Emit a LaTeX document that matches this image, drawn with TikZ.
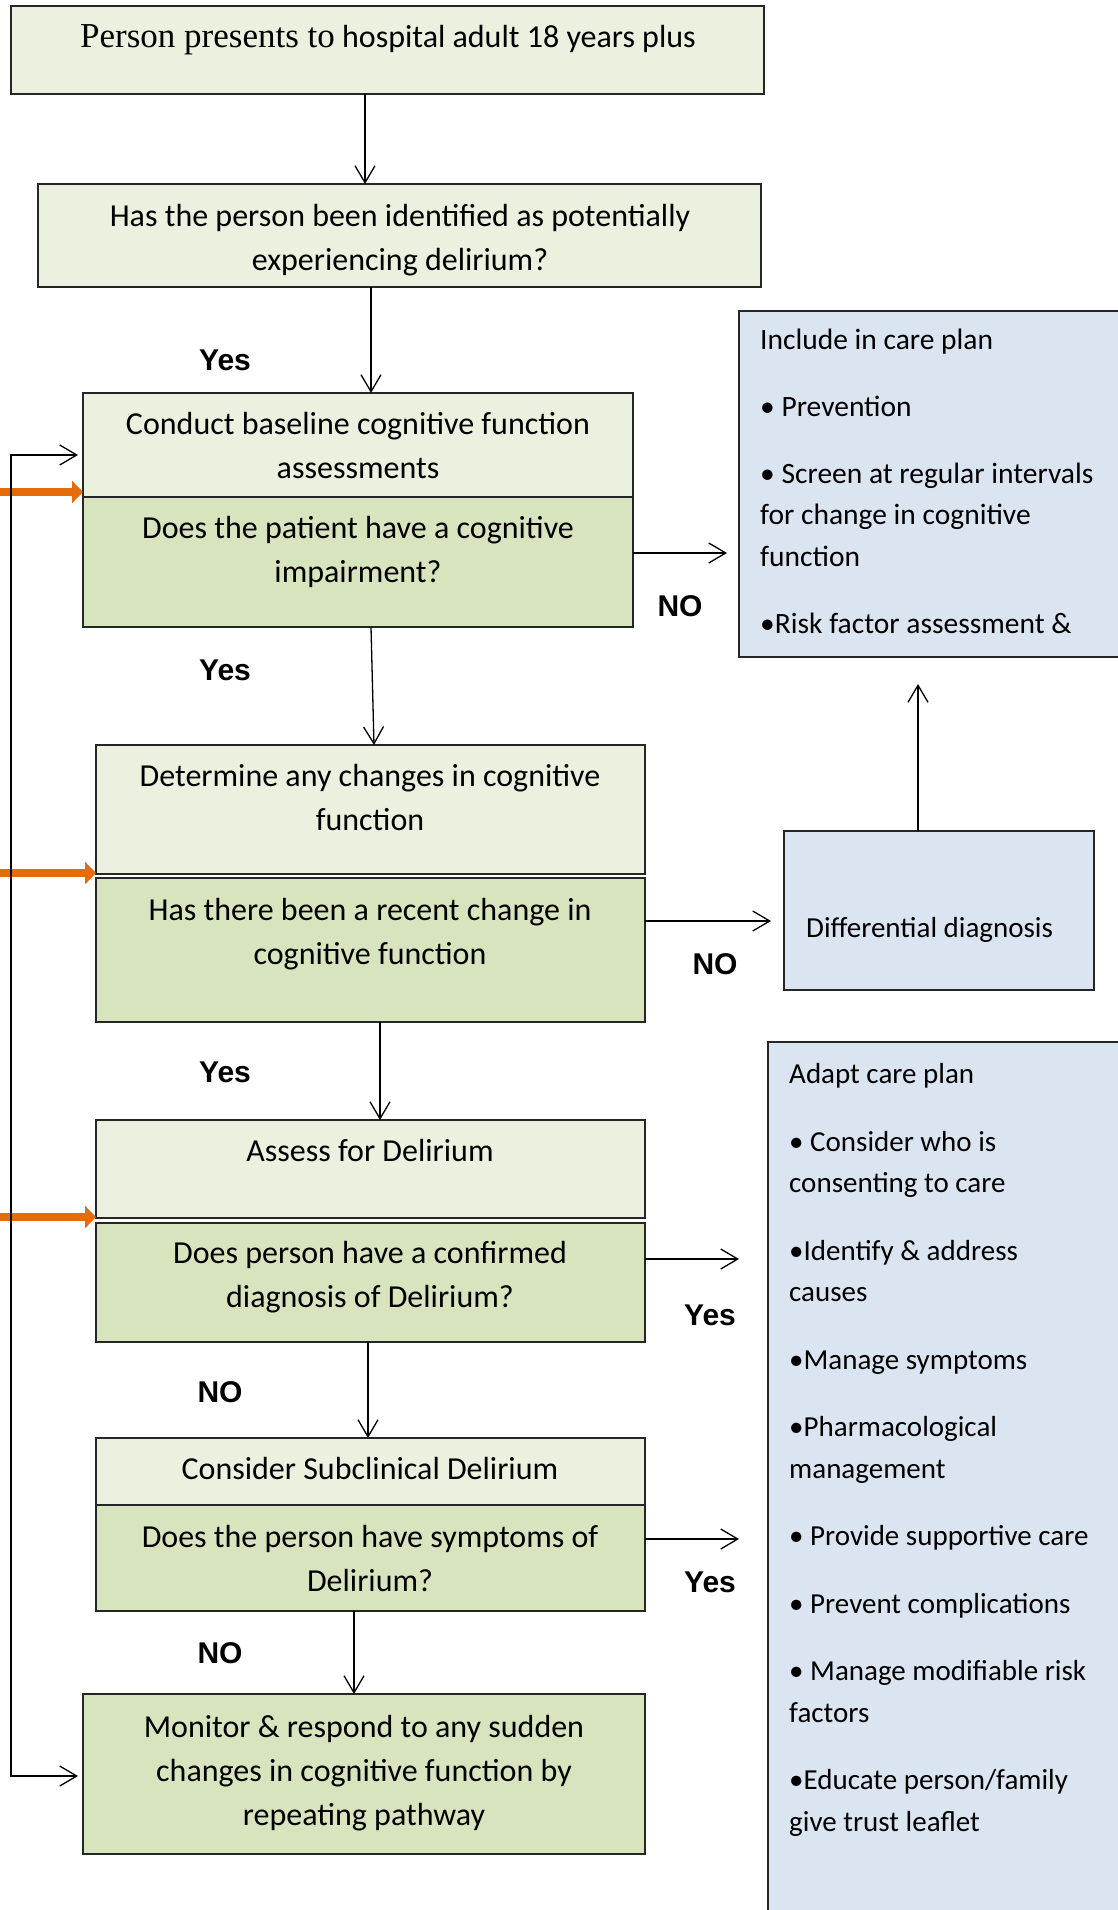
\documentclass[tikz,border=0pt]{standalone}
\usepackage{fontspec}
\setmainfont{Carlito}
\newfontfamily\carl{Carlito}
\newfontfamily\arl{Liberation Sans}
\newfontfamily\srf{Liberation Serif}
\usetikzlibrary{arrows.meta}
\definecolor{lg}{HTML}{EBF1DE}
\definecolor{mg}{HTML}{D7E4BD}
\definecolor{bl}{HTML}{DBE5F1}
\definecolor{og}{HTML}{E46C0A}
\begin{document}
\begin{tikzpicture}[x=1pt,y=-1pt,
  boxst/.style={draw=black!85, line width=1.3pt, inner sep=0pt, outer sep=0pt, anchor=north west},
  txt/.style={font=\carl\fontsize{32}{44}\selectfont, align=center, anchor=mid, inner sep=0pt},
  rt/.style={font=\carl\fontsize{29.5}{41.4}\selectfont, align=left, anchor=mid west, inner sep=0pt},
  lbl/.style={font=\arl\bfseries\fontsize{30}{36}\selectfont, anchor=mid, inner sep=0pt},
  conn/.style={line width=1.3pt, -{Straight Barb[length=17pt,width=20pt]}},
  both/.style={line width=1.3pt, {Straight Barb[length=17pt,width=20pt]}-{Straight Barb[length=17pt,width=20pt]}},
  orng/.style={draw=og, line width=8pt, -{Triangle[length=11pt,width=22pt]}}]
\useasboundingbox (0,0) rectangle (1118,1910);
\clip (0,0) rectangle (1118,1910);

% boxes
\node[boxst, fill=lg, minimum width=753pt, minimum height=88pt] (b1) at (11,6) {};
\node[boxst, fill=lg, minimum width=723pt, minimum height=103pt] (b2) at (38,184) {};
\node[boxst, fill=lg, minimum width=550pt, minimum height=104pt] (b3a) at (83,393) {};
\node[boxst, fill=mg, minimum width=550pt, minimum height=130pt] (b3b) at (83,497) {};
\node[boxst, fill=lg, minimum width=549pt, minimum height=129pt] (b4a) at (96,745) {};
\node[boxst, fill=mg, minimum width=549pt, minimum height=144pt] (b4b) at (96,878) {};
\node[boxst, fill=lg, minimum width=549pt, minimum height=98pt] (b5a) at (96,1120) {};
\node[boxst, fill=mg, minimum width=549pt, minimum height=119pt] (b5b) at (96,1223) {};
\node[boxst, fill=lg, minimum width=549pt, minimum height=67pt] (b6a) at (96,1438) {};
\node[boxst, fill=mg, minimum width=549pt, minimum height=106pt] (b6b) at (96,1505) {};
\node[boxst, fill=mg, minimum width=562pt, minimum height=160pt] (b7) at (83,1694) {};
\node[boxst, fill=bl, minimum width=390pt, minimum height=346pt] (r1) at (739,311) {};
\node[boxst, fill=bl, minimum width=310pt, minimum height=159pt] (rD) at (784,831) {};
\node[boxst, fill=bl, minimum width=360pt, minimum height=900pt] (r2) at (768,1042) {};

% box texts (y = last line)
\node[txt] (t1) at (388,45) {{\srf\fontsize{35}{44}\selectfont Person presents to} hospital adult 18 years plus};
\node[txt] (t2) at (400,268) {Has the person been identified as potentially\\experiencing delirium?};
\node[txt] (t3a) at (358,476) {Conduct baseline cognitive function\\assessments};
\node[txt] (t3b) at (358,580) {Does the patient have a cognitive\\impairment?};
\node[txt] (t4a) at (370,828) {Determine any changes in cognitive\\function};
\node[txt] (t4b) at (370,962) {Has there been a recent change in\\cognitive function};
\node[txt] (t5a) at (370,1159) {Assess for Delirium};
\node[txt] (t5b) at (370,1305) {Does person have a confirmed\\diagnosis of Delirium?};
\node[txt] (t6a) at (370,1477) {Consider Subclinical Delirium};
\node[txt] (t6b) at (370,1589) {Does the person have symptoms of\\Delirium?};
\node[txt] (t7) at (364,1823) {Monitor \& respond to any sudden\\changes in cognitive function by\\repeating pathway};

\node[rt] (tr1) at (760,631) {Include in care plan\\[25.6pt]
• Prevention\\[25.6pt]
• Screen at regular intervals\\for change in cognitive\\function\\[25.6pt]
•Risk factor assessment \&};
\node[rt, font=\carl\fontsize{29}{41}\selectfont] (trD) at (806,935) {Differential diagnosis};
\node[rt, font=\carl\fontsize{29}{41.5}\selectfont] (tr2) at (789,1829) {Adapt care plan\\[26pt]
• Consider who is\\consenting to care\\[26pt]
•Identify \& address\\causes\\[26pt]
•Manage symptoms\\[26pt]
•Pharmacological\\management\\[26pt]
• Provide supportive care\\[26pt]
• Prevent complications\\[26pt]
• Manage modifiable risk\\factors\\[26pt]
•Educate person/family\\give trust leaflet};

% labels
\node[lbl] (y1) at (225,368) {Yes};
\node[lbl] (y2) at (225,678) {Yes};
\node[lbl] (y3) at (225,1080) {Yes};
\node[lbl] (n1) at (680,614) {NO};
\node[lbl] (n2) at (715,972) {NO};
\node[lbl] (y4) at (710,1323) {Yes};
\node[lbl] (y5) at (710,1590) {Yes};
\node[lbl] (n3) at (220,1400) {NO};
\begin{scope}
\clip (0,0) rectangle (500,1666);
\node[lbl] (n4) at (220,1661) {NO};
\end{scope}

% connectors
\draw[conn] (365,0 |- b1.south) -- (365,0 |- b2.north);
\draw[conn] (371,0 |- b2.south) -- (371,0 |- b3a.north);
\draw[conn] (371,0 |- b3b.south) -- (374,0 |- b4a.north);
\draw[conn] (380,0 |- b4b.south) -- (380,0 |- b5a.north);
\draw[conn] (368,0 |- b5b.south) -- (368,0 |- b6a.north);
\draw[conn] (354,0 |- b6b.south) -- (354,0 |- b7.north);
\draw[conn, shorten >=12pt] (b3b.east |- 0,553) -- (r1.west |- 0,553);
\draw[conn, shorten >=13pt] (b4b.east |- 0,921) -- (rD.west |- 0,921);
\draw[conn, shorten >=27pt] (918,0 |- rD.north) -- (918,0 |- r1.south);
\draw[conn, shorten >=29pt] (b5b.east |- 0,1259) -- (r2.west |- 0,1259);
\draw[conn, shorten >=29pt] (b6b.east |- 0,1539) -- (r2.west |- 0,1539);

% orange arrows
\coordinate (o1) at (0,492);
\coordinate (o2) at (0,873);
\coordinate (o3) at (0,1217);
\draw[orng] (o1) -- (b3a.west |- o1);
\draw[orng] (o2) -- (b4a.west |- o2);
\draw[orng] (o3) -- (b5a.west |- o3);

% feedback loop
\coordinate (ftop) at (11,455);
\coordinate (fbot) at (11,1776);
\draw[both, shorten <=5pt, shorten >=5pt] (b3a.west |- ftop) -- (ftop) -- (fbot) -- (b7.west |- fbot);
\end{tikzpicture}
\end{document}
